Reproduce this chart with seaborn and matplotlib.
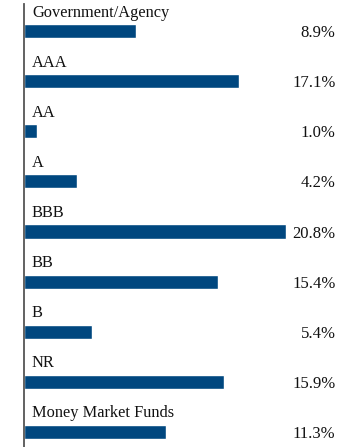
import pandas as pd
import numpy as np
import seaborn as sns
from matplotlib import pyplot as plt

categories = ["Government/Agency", "AAA", "AA", "A", "BBB", "BB", "B", "NR",
              "Money Market Funds"]
values = [8.9, 17.1, 1.0, 4.2, 20.8, 15.4, 5.4, 15.9, 11.3]
labels = ["8.9%", "17.1%", "1.0%", "4.2%", "20.8%", "15.4%", "5.4%", "15.9%",
          "11.3%"]

df = pd.DataFrame({"category": categories, "value": values})

sns.set_style("white")
plt.rcParams['font.family'] = ['Liberation Serif', 'DejaVu Serif']

fig = plt.figure(figsize=(3.6, 4.47), dpi=100)
ax = fig.add_axes([24 / 360, 0, 336 / 360, 443 / 447])

sns.barplot(data=df, x="value", y="category", orient="h", color="#00477F",
            width=0.28, saturation=1, ax=ax)

ax.set_xlim(0, 336 / 12.6)
ax.set_ylim(8.3, -0.54)
ax.set_xlabel("")
ax.set_ylabel("")
ax.set_xticks([])
ax.set_yticks([])
for s in ["top", "right", "bottom"]:
    ax.spines[s].set_visible(False)
ax.spines["left"].set_color("#555555")
ax.spines["left"].set_linewidth(1.3)

for i, (cat, lab) in enumerate(zip(categories, labels)):
    ax.text(8 / 12.6, i - 0.37, cat, fontsize=11.8, va="center", ha="left",
            color="#111111")
    ax.text(0.927, i + 0.04, lab, fontsize=12, va="center", ha="right",
            color="#111111", transform=ax.get_yaxis_transform())

fig.savefig("out.png", dpi=100)
